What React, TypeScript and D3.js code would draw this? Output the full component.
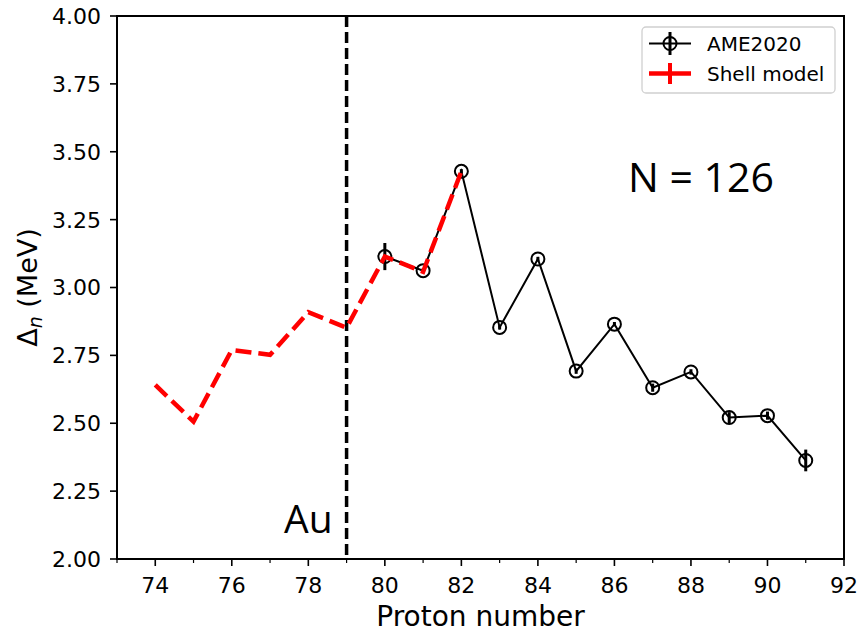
import React from "react";
import * as d3 from "d3";

const ameZ = [80, 81, 82, 83, 84, 85, 86, 87, 88, 89, 90, 91];
const ameVal = [3.114, 3.062, 3.428, 2.853, 3.105, 2.692, 2.865, 2.631, 2.689, 2.521, 2.528, 2.363];
const ameErr = [0.05, 0.008, 0.008, 0.008, 0.008, 0.01, 0.008, 0.015, 0.01, 0.02, 0.015, 0.04];

const smZ = [74, 75, 76, 77, 78, 79, 80, 81, 82];
const smVal = [2.641, 2.506, 2.77, 2.752, 2.909, 2.852, 3.114, 3.058, 3.428];

const xTicks = [74, 76, 78, 80, 82, 84, 86, 88, 90, 92];
const xMinor = [73, 75, 77, 79, 81, 83, 85, 87, 89, 91];
const yTicks = [2.0, 2.25, 2.5, 2.75, 3.0, 3.25, 3.5, 3.75, 4.0];

const goldZ = 79;

const W = 863;
const H = 634;
const M = { left: 117, right: 844, top: 16, bottom: 559 };

export default function App() {
  const x = d3.scaleLinear().domain([73, 92]).range([M.left, M.right]);
  const y = d3.scaleLinear().domain([2.0, 4.0]).range([M.bottom, M.top]);
  const font = "DejaVu Sans, sans-serif";

  const ameLine = d3
    .line<number>()
    .x((_, i) => x(ameZ[i]))
    .y((v) => y(v))(ameVal) as string;
  const smLine = d3
    .line<number>()
    .x((_, i) => x(smZ[i]))
    .y((v) => y(v))(smVal) as string;

  return (
    <svg
      width={W}
      height={H}
      style={{ position: "absolute", left: 0, top: 0, background: "#fff" }}
      fontFamily={font}
    >
      <rect x={0} y={0} width={W} height={H} fill="#fff" />
      {/* gold line */}
      <line
        x1={x(goldZ)}
        x2={x(goldZ)}
        y1={M.top}
        y2={M.bottom}
        stroke="#000"
        strokeWidth={3.5}
        strokeDasharray="11,5"
      />
      {/* AME line */}
      <path d={ameLine} fill="none" stroke="#000" strokeWidth={2} />
      {ameZ.map((z, i) => (
        <g key={"a" + z}>
          <line
            x1={x(z)}
            x2={x(z)}
            y1={y(ameVal[i] - ameErr[i])}
            y2={y(ameVal[i] + ameErr[i])}
            stroke="#000"
            strokeWidth={3}
          />
          <circle cx={x(z)} cy={y(ameVal[i])} r={6.5} fill="none" stroke="#000" strokeWidth={2} />
        </g>
      ))}
      {/* shell model */}
      <path d={smLine} fill="none" stroke="#ff0000" strokeWidth={4.5} strokeDasharray="16,7" />

      {/* spines */}
      <rect
        x={M.left}
        y={M.top}
        width={M.right - M.left}
        height={M.bottom - M.top}
        fill="none"
        stroke="#000"
        strokeWidth={2}
      />
      {/* x ticks */}
      {xTicks.map((t) => (
        <g key={"xt" + t}>
          <line x1={x(t)} x2={x(t)} y1={M.bottom} y2={M.bottom + 7} stroke="#000" strokeWidth={1.6} />
          <text x={x(t)} y={593} textAnchor="middle" fontSize={22} fill="#000">
            {t}
          </text>
        </g>
      ))}
      {xMinor.map((t) => (
        <line key={"xm" + t} x1={x(t)} x2={x(t)} y1={M.bottom} y2={M.bottom + 4} stroke="#000" strokeWidth={1.2} />
      ))}
      {yTicks.map((t) => (
        <g key={"yt" + t}>
          <line x1={M.left - 7} x2={M.left} y1={y(t)} y2={y(t)} stroke="#000" strokeWidth={1.6} />
          <text x={101} y={y(t)} dy="0.36em" textAnchor="end" fontSize={22} fill="#000">
            {d3.format(".2f")(t)}
          </text>
        </g>
      ))}
      {/* axis labels */}
      <text x={(M.left + M.right) / 2} y={626} textAnchor="middle" fontSize={28} fill="#000">
        Proton number
      </text>
      <text
        transform={`translate(37,${(M.top + M.bottom) / 2}) rotate(-90)`}
        textAnchor="middle"
        fontSize={27}
        fill="#000"
      >
        Δ
        <tspan fontSize={19} fontStyle="italic" dy={5}>
          n
        </tspan>
        <tspan dy={-5}> (MeV)</tspan>
      </text>

      {/* annotations */}
      <text x={628} y={192} fontFamily="'Open Sans', sans-serif" fontSize={41} fill="#000">
        N = 126
      </text>
      <text x={284} y={533} fontFamily="'Open Sans', sans-serif" fontSize={39} fill="#000">
        Au
      </text>

      {/* legend */}
      <g>
        <rect x={642} y={27} width={193} height={66} rx={4} fill="#fff" fillOpacity={0.8} stroke="#d0d0d0" strokeWidth={1.3} />
        <line x1={649} x2={691} y1={43.5} y2={43.5} stroke="#000" strokeWidth={2} />
        <line x1={670} x2={670} y1={32} y2={55} stroke="#000" strokeWidth={3} />
        <circle cx={670} cy={43.5} r={6.5} fill="none" stroke="#000" strokeWidth={2} />
        <text x={707} y={43.5} dy="0.36em" fontSize={20} fill="#000">
          AME2020
        </text>
        <line x1={649} x2={691} y1={73.5} y2={73.5} stroke="#ff0000" strokeWidth={4.5} />
        <line x1={670} x2={670} y1={63} y2={84} stroke="#ff0000" strokeWidth={4} />
        <text x={707} y={73.5} dy="0.36em" fontSize={20} fill="#000">
          Shell model
        </text>
      </g>
    </svg>
  );
}
